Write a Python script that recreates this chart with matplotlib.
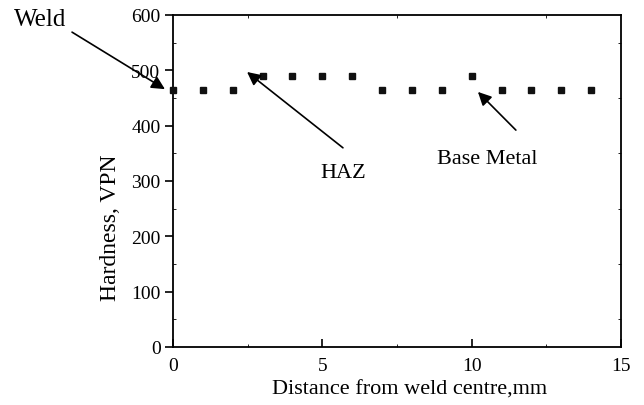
import matplotlib
matplotlib.use("Agg")
import matplotlib.pyplot as plt
from matplotlib.ticker import MultipleLocator

distance = [0, 1, 2, 3, 4, 5, 6, 7, 8, 9, 10, 11, 12, 13, 14]
hardness = [465, 465, 465, 490, 490, 490, 490, 465, 465, 465, 490, 465, 465, 465, 465]
x_ticks = [0, 5, 10, 15]
y_ticks = [0, 100, 200, 300, 400, 500, 600]

plt.rcParams['font.family'] = ['Liberation Serif', 'DejaVu Serif']

W, H = 644, 406
fig = plt.figure(figsize=(W / 100, H / 100), dpi=100)
ax = fig.add_axes([173/W, 1-348/H, 448/W, 332/H])
ax.plot(distance, hardness, linestyle='none', marker='s', markersize=4.5,
        color='#111111', clip_on=False, zorder=3)
ax.set_xlim(0, 15)
ax.set_ylim(0, 600)
ax.set_xticks(x_ticks)
ax.set_yticks(y_ticks)
ax.xaxis.set_minor_locator(MultipleLocator(2.5))
ax.yaxis.set_minor_locator(MultipleLocator(50))
ax.tick_params(axis='x', which='major', direction='in', length=6, width=1.2, labelsize=14, top=False, pad=7.5)
ax.tick_params(axis='x', which='minor', direction='in', length=2, top=True)
ax.tick_params(axis='y', which='major', direction='out', length=6, width=1.2, labelsize=14, right=False, pad=3)
ax.tick_params(axis='y', which='minor', direction='in', length=2, right=True)
for s in ax.spines.values():
    s.set_linewidth(1.3)

fig.text(410/W, 1-390/H, 'Distance from weld centre,mm', fontsize=16, ha='center', va='center')
fig.text(111/W, 1-228/H, 'Hardness, VPN', fontsize=17, ha='center', va='center', rotation=90)

arrow = dict(arrowstyle='-|>', color='black', lw=1.2, mutation_scale=20, shrinkA=0, shrinkB=0)
ax.annotate('', xy=(-0.27, 466), xytext=(-3.38, 569), arrowprops=arrow, annotation_clip=False)
ax.text(-4.45, 593, 'Weld', fontsize=18, ha='center', va='center', clip_on=False)
ax.annotate('', xy=(2.48, 497), xytext=(5.69, 360), arrowprops=arrow, annotation_clip=False)
ax.text(5.69, 316, 'HAZ', fontsize=16, ha='center', va='center')
ax.annotate('', xy=(10.21, 461), xytext=(11.48, 392), arrowprops=arrow, annotation_clip=False)
ax.text(10.51, 340, 'Base Metal', fontsize=16, ha='center', va='center')

fig.savefig('out.png', dpi=100)
